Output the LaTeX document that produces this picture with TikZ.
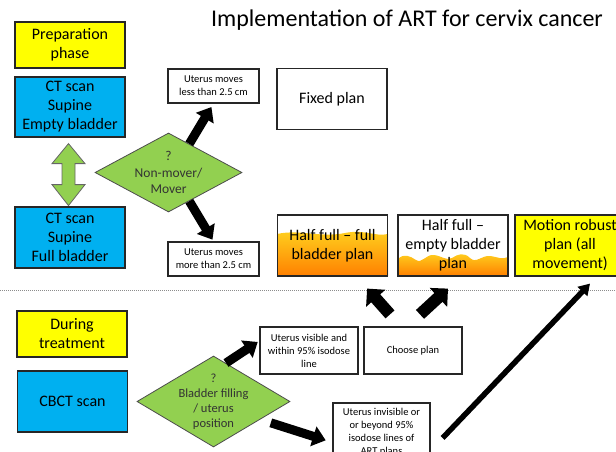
\documentclass[tikz,border=0pt]{standalone}
\usepackage{fontspec}
\setmainfont{Carlito}
\usepackage{tikz}
\usetikzlibrary{arrows.meta,shapes.geometric,calc}

\definecolor{boxyellow}{HTML}{FFFF00}
\definecolor{boxblue}{HTML}{00B0F0}
\definecolor{boxgreen}{HTML}{92D050}
\definecolor{plangold}{HTML}{FFD21F}
\definecolor{planorange}{HTML}{FF8000}

\begin{document}
\begin{tikzpicture}[x=1pt, y=-1pt,
	box/.style = {rectangle, draw=black!85, line width=1.2pt, align=center, inner sep=0pt,
		minimum width=110pt, minimum height=61pt, font=\fontsize{16}{19}\selectfont},
	note/.style = {box, minimum width=91pt, minimum height=34pt, font=\fontsize{10.5}{13}\selectfont},
	decide/.style = {diamond, draw=black!70, line width=0.8pt, fill=boxgreen, align=center,
		inner sep=-3pt, aspect=1.8, text=black!80},
	dblarrow/.style = {draw=black!60, line width=0.8pt, fill=boxgreen},
	fillwave/.style = {top color=plangold, bottom color=planorange}]
	\useasboundingbox (0,0) rectangle (616,452);
	\clip (0,0) rectangle (616,452);
	\node [anchor=base, font=\fontsize{24}{28}\selectfont] (title) at (407,27) {Implementation of ART for cervix cancer};
	\shade [fillwave] (277,276) -- (277,234) .. controls (300,229) and (320,238) .. (345,233)
		.. controls (365,229) and (375,237) .. (388,234) -- (388,276) -- cycle;
	\shade [fillwave] (398,276) -- (398,259) .. controls (404,253) and (410,256) .. (416,260)
		.. controls (422,264) and (426,254) .. (434,255) .. controls (442,256) and (446,261) .. (452,258)
		.. controls (458,254) and (464,252) .. (470,258) .. controls (476,264) and (482,255) .. (490,256)
		.. controls (498,257) and (502,260) .. (508,257) -- (508,276) -- cycle;
	\draw [densely dotted, draw=black!45, line width=1pt] (0,290) -- (616,290);
	\begin{scope}[every node/.style = {box}]
		\node [fill=boxyellow, minimum height=46pt] (prep) at (70,45) {Preparation\\phase};
		\node [fill=boxblue, minimum height=60pt] (ctempty) at (70,107) {CT scan\\Supine\\Empty bladder};
		\node [fill=boxblue] (ctfull) at (70,237.5) {CT scan\\Supine\\Full bladder};
		\node (fixed) at (332,99) {Fixed plan};
		\node (hfull) at (332.5,245.5) {Half full -- full\\bladder plan};
		\node (hempty) at (453,245.5) {Half full --\\empty bladder\\plan};
		\node [fill=boxyellow] (robust) at (570,245.5) {Motion robust\\plan (all\\movement)};
		\node [fill=boxyellow, minimum height=46pt] (during) at (72,334) {During\\treatment};
		\node [fill=boxblue] (cbct) at (72.5,401.5) {CBCT scan};
	\end{scope}
	\begin{scope}[every node/.style = {note}]
		\node (less) at (213.5,86) {Uterus moves\\less than 2.5 cm};
		\node (more) at (213.5,259) {Uterus moves\\more than 2.5 cm};
		\node [minimum width=98pt, minimum height=47pt] (visible) at (309,350.5) {Uterus visible and\\within 95\% isodose\\line};
		\node [minimum width=98pt, minimum height=47pt] (choose) at (413,350.5) {Choose plan};
		\node [minimum width=97pt, minimum height=58pt] (invisible) at (381.5,432) {Uterus invisible or\\or beyond 95\%\\isodose lines of\\ART plans};
	\end{scope}
	\node [decide, minimum width=147pt, minimum height=79pt, font=\fontsize{13.5}{16.5}\selectfont]
		(nonmover) at (168.5,172.5) {?\\Non-mover/\\Mover};
	\node [decide, minimum width=149pt, minimum height=91pt, font=\fontsize{12.5}{15}\selectfont]
		(filling) at (213.5,401.5) {?\\Bladder filling\\/ uterus\\position};
	\draw [dblarrow] ($(ctempty.south)+(-1.5,6)$) -- ++(16.5,20) -- ++(-10,0) -- ++(0,21) -- ++(10,0)
		-- ++(-16.5,21) -- ++(-16.5,-21) -- ++(10,0) -- ++(0,-21) -- ++(-10,0) -- cycle;
	\begin{scope}[>={Triangle[length=13pt, width=20pt]},
			every edge/.style={draw=black, line width=9pt}]
		\path [->] (nonmover.54) edge [shorten >=4pt] (less.south);
		\path [->] (nonmover.-54) edge [shorten >=2pt] (more.north);
		\path [->] (filling.72) edge [shorten >=2pt] (visible.169);
		\path [->] (filling.-21) edge [shorten <=11pt, shorten >=7pt] (invisible.192);
	\end{scope}
	\begin{scope}[>={Triangle[length=13pt, width=25pt]},
			every edge/.style={draw=black, line width=12pt}]
		\path [->] ($(choose.north)+(-23,-12)$) edge ($(hfull.south east)+(-21,12)$);
		\path [->] ($(choose.north)+(7,-12)$) edge ($(hempty.south)+(-5,12)$);
	\end{scope}
	\begin{scope}[>={Triangle[length=11pt, width=13pt]},
			every edge/.style={draw=black, line width=5.5pt}]
		\path [->] ($(invisible.east)+(12,6)$) edge ($(robust.south)+(20,7)$);
	\end{scope}
\end{tikzpicture}
\end{document}
